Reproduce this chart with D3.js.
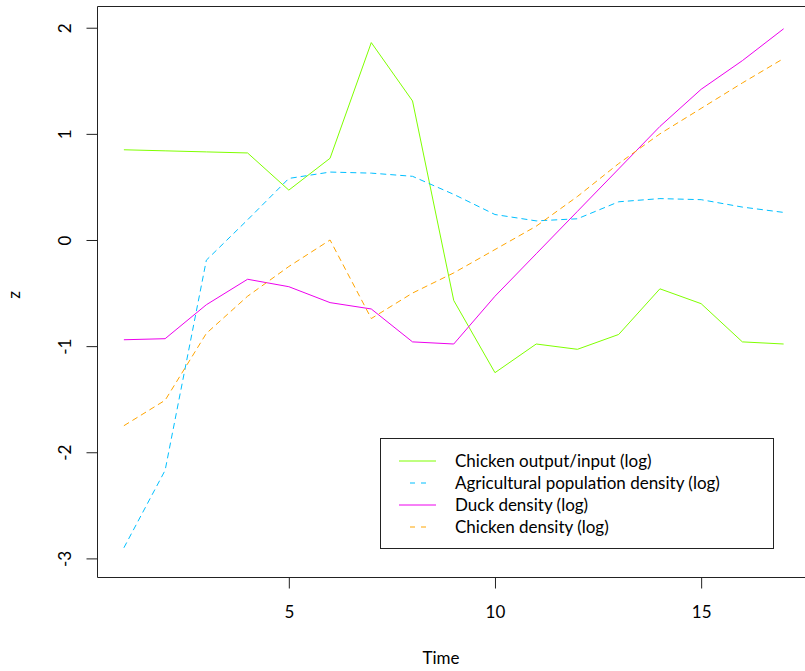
<!DOCTYPE html>
<html>
<head>
<meta charset="utf-8">
<script src="https://cdn.jsdelivr.net/npm/d3@7"></script>
<style>
  body { margin: 0; background: #fff; }
  svg text { font-family: Lato, "Open Sans", sans-serif; fill: #000; }
</style>
</head>
<body>
<div id="chart"></div>
<script>
// time index 1..17
var time = [1, 2, 3, 4, 5, 6, 7, 8, 9, 10, 11, 12, 13, 14, 15, 16, 17];

var chickenOutput = [0.85, 0.84, 0.83, 0.82, 0.47, 0.77, 1.86, 1.31, -0.57, -1.25, -0.98, -1.03, -0.89, -0.46, -0.60, -0.96, -0.98];
var agriPop      = [-2.90, -2.17, -0.19, 0.19, 0.58, 0.64, 0.63, 0.60, 0.43, 0.24, 0.18, 0.20, 0.36, 0.39, 0.38, 0.31, 0.26];
var duckDensity  = [-0.94, -0.93, -0.61, -0.37, -0.44, -0.59, -0.65, -0.96, -0.98, -0.53, -0.13, 0.27, 0.67, 1.07, 1.42, 1.69, 1.99];
var chickenDens  = [-1.75, -1.51, -0.88, -0.53, -0.25, 0.00, -0.74, -0.50, -0.31, -0.09, 0.13, 0.41, 0.72, 1.00, 1.24, 1.48, 1.71];

var seriesNames = ["Chicken output/input (log)", "Agricultural population density (log)", "Duck density (log)", "Chicken density (log)"];
var seriesColors = ["#7FFF00", "#00BFFF", "#EE00EE", "#FFA500"];
var seriesDashed = [false, true, false, true];

var xTicks = [5, 10, 15];
var yTicks = [-3, -2, -1, 0, 1, 2];

var allSeries = [chickenOutput, agriPop, duckDensity, chickenDens];

var W = 805, H = 671;
var svg = d3.select("#chart").append("svg")
  .attr("width", W).attr("height", H);

// plot region (right side runs off the picture)
var pLeft = 97.5, pTop = 6.5, pBottom = 577.5, pRight = 810;

var x = d3.scaleLinear().domain([0.36, 17.64]).range([pLeft, pRight]);
var y = d3.scaleLinear().domain([-3.18, 2.2]).range([pBottom, pTop]);

// box
svg.append("path")
  .attr("d", "M" + (W + 5) + "," + pTop + "H" + pLeft + "V" + pBottom + "H" + (W + 5))
  .attr("fill", "none")
  .attr("stroke", "#222")
  .attr("stroke-width", 1);

// bottom axis
var xAxis = d3.axisBottom(x).tickValues(xTicks).tickSize(11).tickSizeOuter(0).tickPadding(17);
var gx = svg.append("g").attr("transform", "translate(0," + pBottom + ")").call(xAxis);
gx.select(".domain").remove();
gx.selectAll(".tick line").attr("stroke", "#222");
gx.selectAll("text").attr("font-size", 17).attr("font-family", "Lato, sans-serif").attr("fill", "#000");

// left axis, rotated labels
var yAxis = d3.axisLeft(y).tickValues(yTicks).tickSize(11).tickSizeOuter(0)
  .tickFormat(function(d) { return String(d); });
var gy = svg.append("g").attr("transform", "translate(" + pLeft + ",0)").call(yAxis);
gy.select(".domain").remove();
gy.selectAll(".tick line").attr("stroke", "#222");
gy.selectAll(".tick text")
  .attr("x", 0).attr("dy", null)
  .attr("text-anchor", "middle")
  .attr("font-size", 17).attr("font-family", "Lato, sans-serif").attr("fill", "#000")
  .attr("transform", "translate(-31,0) rotate(-90)")
  .attr("dominant-baseline", "middle");

// axis titles
svg.append("text").attr("x", 441).attr("y", 664).attr("text-anchor", "middle")
  .attr("font-size", 17).text("Time");
svg.append("text").attr("transform", "translate(20,295) rotate(-90)")
  .attr("text-anchor", "middle").attr("font-size", 17).text("z");

// lines
var line = d3.line()
  .x(function(d, i) { return x(time[i]); })
  .y(function(d) { return y(d); });

allSeries.forEach(function(s, k) {
  svg.append("path")
    .datum(s)
    .attr("d", line)
    .attr("fill", "none")
    .attr("stroke", seriesColors[k])
    .attr("stroke-width", 1)
    .attr("stroke-dasharray", seriesDashed[k] ? "6,4" : null);
});

// legend
var lg = svg.append("g");
lg.append("rect")
  .attr("x", 380.5).attr("y", 438.5).attr("width", 393).attr("height", 110)
  .attr("fill", "#fff").attr("stroke", "#222");

seriesNames.forEach(function(name, k) {
  var yy = 461 + k * 22;
  if (seriesDashed[k]) {
    lg.append("line")
      .attr("x1", 410).attr("x2", 426).attr("y1", yy).attr("y2", yy)
      .attr("stroke", seriesColors[k]).attr("stroke-dasharray", "5,6");
  } else {
    lg.append("line")
      .attr("x1", 399).attr("x2", 436).attr("y1", yy).attr("y2", yy)
      .attr("stroke", seriesColors[k]);
  }
  lg.append("text")
    .attr("x", 455).attr("y", yy).attr("dy", "0.35em")
    .attr("font-size", 17).text(name);
});
</script>
</body>
</html>
